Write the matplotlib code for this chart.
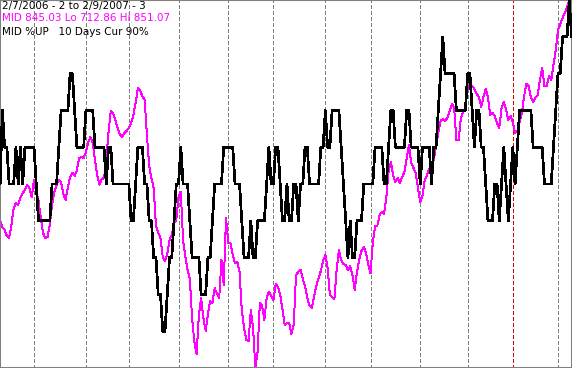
import numpy as np
import pandas as pd
import matplotlib
matplotlib.use("Agg")
import matplotlib.pyplot as plt

# ---- data ----
holidays = ['2006-02-20', '2006-04-14', '2006-05-29', '2006-07-04', '2006-09-04',
            '2006-11-23', '2006-12-25', '2007-01-01', '2007-01-02', '2007-01-15']

# 10-day %UP (in percent)
pct_up = [50, 70, 60, 60, 50, 50, 50, 60, 50, 60,
          50, 60, 60, 60, 60, 60, 50, 40, 40, 40,
          40, 40, 40, 50, 50, 50, 60, 70, 70, 70,
          70, 80, 80, 70, 60, 60, 60, 60, 70, 70,
          70, 70, 60, 60, 60, 60, 60, 50, 60, 60,
          50, 50, 50, 50, 50, 50, 50, 50, 40, 40,
          50, 60, 60, 60, 50, 50, 40, 40, 30, 30,
          20, 20, 10, 10, 20, 30, 30, 40, 50, 50,
          60, 50, 50, 50, 40, 30, 30, 30, 30, 20,
          20, 20, 30, 30, 40, 50, 50, 50, 50, 60,
          60, 60, 60, 60, 50, 50, 50, 40, 30, 30,
          30, 40, 30, 30, 40, 40, 40, 40, 50, 60,
          50, 50, 60, 60, 50, 40, 40, 50, 40, 40,
          50, 50, 40, 50, 50, 60, 60, 50, 50, 50,
          50, 50, 60, 60, 70, 60, 60, 70, 70, 70,
          70, 60, 50, 40, 30, 40, 30, 30, 40, 40,
          40, 50, 50, 50, 50, 50, 60, 60, 60, 60,
          50, 50, 60, 70, 70, 60, 60, 60, 60, 60,
          70, 70, 60, 60, 60, 60, 50, 60, 60, 60,
          60, 50, 60, 60, 70, 80, 90, 80, 80, 80,
          80, 80, 70, 70, 70, 70, 70, 80, 80, 70,
          60, 70, 70, 60, 60, 50, 40, 40, 40, 50,
          50, 40, 50, 60, 50, 40, 50, 60, 50, 60,
          70, 70, 70, 70, 70, 70, 60, 60, 60, 60,
          60, 50, 50, 50, 50, 60, 70, 80, 80, 90,
          90, 90, 100, 90]

# MID price
mid = [768.1, 765.8, 764.7, 762.4, 761.7, 766.6, 773.0, 774.8, 774.1, 776.7,
       778.6, 779.7, 781.6, 780.5, 777.1, 783.5, 779.0, 775.6, 769.6, 763.6,
       761.7, 762.1, 766.6, 774.1, 779.0, 781.6, 783.5, 782.7, 778.2, 776.0,
       780.8, 784.6, 786.1, 785.0, 787.2, 791.7, 792.1, 791.7, 794.0, 797.7,
       799.6, 797.4, 791.0, 785.3, 781.6, 783.8, 784.2, 791.0, 801.5, 809.4,
       808.6, 806.0, 803.0, 800.7, 799.6, 801.1, 801.9, 803.0, 804.9, 807.9,
       812.4, 818.0, 816.9, 815.0, 813.5, 800.4, 788.7, 784.2, 780.5, 766.2,
       763.6, 761.7, 754.6, 753.1, 755.7, 760.9, 762.8, 767.3, 768.4, 777.1,
       779.0, 760.9, 754.9, 749.7, 746.3, 731.6, 722.6, 718.1, 732.8, 739.2,
       731.6, 726.8, 733.1, 738.0, 737.3, 742.9, 740.7, 739.2, 753.4, 744.0,
       769.2, 759.8, 759.8, 755.3, 752.3, 752.7, 748.9, 734.6, 727.9, 723.4,
       723.0, 734.6, 727.9, 712.86, 718.9, 737.3, 736.2, 730.9, 739.2, 741.4,
       739.9, 738.4, 744.4, 743.3, 740.3, 735.0, 729.0, 729.8, 729.8, 725.6,
       729.0, 747.8, 748.9, 749.7, 746.3, 743.7, 739.2, 736.2, 735.4, 739.5,
       743.7, 746.7, 749.3, 753.1, 755.3, 750.4, 740.3, 739.5, 738.8, 749.7,
       757.2, 753.4, 751.9, 751.5, 749.7, 751.2, 747.8, 742.2, 748.9, 753.4,
       756.8, 758.3, 756.1, 751.5, 748.5, 759.8, 766.2, 766.2, 770.3, 771.5,
       770.7, 777.1, 786.5, 790.2, 785.3, 782.7, 784.2, 782.3, 784.6, 786.5,
       791.7, 796.6, 789.9, 788.0, 786.1, 780.5, 775.2, 777.5, 783.5, 785.3,
       787.6, 789.9, 791.0, 795.9, 801.1, 805.6, 806.4, 805.6, 806.8, 809.4,
       812.0, 810.9, 798.5, 798.5, 806.8, 809.0, 810.1, 818.0, 819.1, 818.8,
       817.6, 815.8, 814.6, 810.9, 814.6, 817.6, 814.6, 807.9, 808.6, 807.5,
       804.9, 803.0, 810.5, 812.8, 810.1, 806.0, 807.5, 804.9, 801.1, 801.9,
       805.3, 808.6, 815.0, 819.5, 818.8, 814.6, 812.8, 814.3, 815.4, 821.0,
       825.5, 818.8, 818.8, 822.5, 821.0, 826.7, 832.3, 839.8, 842.1, 844.3,
       846.2, 848.4, 851.07, 845.03]

title_line = "2/7/2006 - 2 to 2/9/2007 - 3"
series_name = "MID"
days = 10

# ---- calendar ----
dates = pd.bdate_range('2006-02-07', '2007-02-09')
dates = dates[~dates.isin(pd.to_datetime(holidays))]
n = min(len(dates), len(mid), len(pct_up))
dates = dates[:n]
mid = np.array(mid[:n])
pct_up = np.array(pct_up[:n])
idx = np.arange(n)

month_start = [i for i in range(1, n) if dates[i].month != dates[i - 1].month]
year_start = [i for i in month_start if dates[i].year != dates[i - 1].year]

W, H = 572, 368
fig = plt.figure(figsize=(W / 100, H / 100), dpi=100)
fig.patch.set_facecolor('white')
ax = fig.add_axes([0, 0, 1, 1])
ax.set_facecolor('white')

for i in month_start:
    col = '#dd0000' if i in year_start else '#808080'
    ax.axvline(i, color=col, lw=0.75, dashes=(3.2, 2.6), antialiased=False, zorder=1)

ax2 = ax.twinx()
ax2.plot(idx, mid, color='#ff00ff', lw=0.7, antialiased=False, zorder=2)
ax2.set_ylim(mid.min(), mid.max())

ax3 = ax.twinx()
ax3.plot(idx, pct_up, color='black', lw=1.25, antialiased=False, zorder=3)
ax3.set_ylim(0, 100)

for a in (ax, ax2, ax3):
    a.set_xlim(-0.05, n - 1 + 0.2)
    a.set_xticks([])
    a.set_yticks([])
    for s in a.spines.values():
        s.set_visible(False)
for s in ax3.spines.values():
    s.set_visible(True)
    s.set_color('#808080')
    s.set_linewidth(1.5)

fam = ['DejaVu Sans']
fs = 7.5
fig.text(2 / W, 1 - 5.6 / H, title_line, color='black', fontsize=fs,
         family=fam, va='center', ha='left')
fig.text(2 / W, 1 - 18.3 / H,
         f"{series_name} {mid[-1]:.2f} Lo {mid.min():.2f} Hi {mid.max():.2f}",
         color='#ff00ff', fontsize=fs, family=fam, va='center', ha='left')
fig.text(2 / W, 1 - 32 / H,
         f"{series_name} %UP   {days} Days Cur {pct_up[-1]:.0f}%",
         color='black', fontsize=fs, family=fam, va='center', ha='left')

fig.savefig('out.png', dpi=100, facecolor='white')
